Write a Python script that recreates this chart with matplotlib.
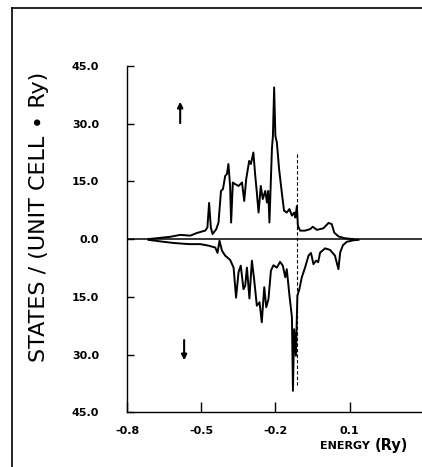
import numpy as np
import matplotlib.pyplot as plt
from matplotlib.lines import Line2D

# spin-up density of states (energy in Ry, states / unit cell Ry)
e_up = [-0.713, -0.625, -0.585, -0.544, -0.517, -0.484, -0.475, -0.468, -0.461, -0.454,
        -0.439, -0.430, -0.420, -0.412, -0.403, -0.396, -0.390, -0.383, -0.379, -0.372,
        -0.363, -0.349, -0.335, -0.326, -0.318, -0.306, -0.299, -0.289, -0.282, -0.275,
        -0.268, -0.259, -0.251, -0.241, -0.234, -0.229, -0.224, -0.214, -0.210, -0.205,
        -0.200, -0.194, -0.185, -0.174, -0.165, -0.154, -0.143, -0.133, -0.124, -0.119,
        -0.113, -0.109, -0.100, -0.080, -0.059, -0.049, -0.032, -0.006, 0.015, 0.028,
        0.038, 0.055, 0.082, 0.116]
dos_up = [0.0, 0.6, 1.1, 0.9, 1.6, 2.2, 3.0, 9.4, 3.0, 1.3,
          2.6, 4.3, 12.5, 13.0, 16.4, 16.9, 19.5, 13.8, 4.3, 14.7,
          14.3, 13.8, 14.7, 9.9, 15.6, 20.3, 19.5, 22.5, 16.9, 12.1,
          6.9, 13.8, 10.4, 12.5, 9.5, 12.5, 4.3, 23.4, 26.8, 39.4,
          26.8, 25.1, 18.2, 12.1, 7.4, 6.9, 7.8, 6.1, 6.9, 5.6,
          8.6, 3.5, 2.2, 2.2, 2.6, 3.2, 2.4, 2.8, 4.2, 3.9,
          1.7, 0.7, 0.2, 0.0]

# spin-down density of states (plotted downward)
e_dn = [-0.713, -0.652, -0.612, -0.551, -0.504, -0.470, -0.443, -0.434, -0.426, -0.416,
        -0.403, -0.383, -0.369, -0.359, -0.349, -0.340, -0.329, -0.322, -0.315, -0.305,
        -0.295, -0.286, -0.275, -0.264, -0.255, -0.245, -0.237, -0.228, -0.218, -0.208,
        -0.194, -0.181, -0.170, -0.160, -0.154, -0.143, -0.133, -0.129, -0.124, -0.117,
        -0.111, -0.103, -0.093, -0.080, -0.066, -0.056, -0.046, -0.035, -0.027, -0.019,
        0.001, 0.021, 0.041, 0.055, 0.062, 0.073, 0.089, 0.116, 0.136]
dos_dn = [0.2, 0.7, 1.0, 1.3, 1.3, 1.7, 2.2, 3.6, 0.4, 3.0,
          4.3, 5.4, 7.4, 15.2, 8.6, 6.9, 13.0, 12.1, 7.4, 15.4,
          5.6, 10.4, 17.3, 16.4, 21.6, 12.5, 17.7, 15.6, 8.2, 6.8,
          7.4, 5.9, 6.9, 9.9, 7.8, 14.7, 20.3, 39.4, 23.4, 30.3,
          14.7, 13.0, 9.9, 7.4, 4.3, 3.6, 6.5, 5.6, 6.0, 3.5,
          2.4, 2.8, 4.3, 7.8, 3.5, 1.6, 0.7, 0.3, 0.2]

e_fermi = -0.112
y_ticks = [45, 30, 15, 0, -15, -30, -45]
y_labels = ['45.0', '30.0', '15.0', '0.0', '15.0', '30.0', '45.0']
x_ticks = [-0.8, -0.5, -0.2, 0.1]
x_labels = ['-0.8', '-0.5', '-0.2', '0.1']

tick_kw = dict(family='DejaVu Sans', fontsize=8, fontweight='bold')

fig = plt.figure(figsize=(4.22, 4.67), dpi=100)
ax = fig.add_axes([0.301, 0.117, 0.699, 0.742])

ax.plot(e_up, dos_up, color='k', lw=1.4)
ax.plot(e_dn, -np.array(dos_dn), color='k', lw=1.4)
ax.axhline(0, color='k', lw=1.1)
ax.plot([e_fermi, e_fermi], [22, -38], color='k', lw=0.8, ls=(0, (3, 2)))

# spin arrows
ax.annotate('', xy=(-0.585, 36.4), xytext=(-0.585, 29.4),
            arrowprops=dict(arrowstyle='-|>', color='k', lw=1.5, mutation_scale=8))
ax.annotate('', xy=(-0.569, -32.2), xytext=(-0.569, -25.5),
            arrowprops=dict(arrowstyle='-|>', color='k', lw=1.5, mutation_scale=8))

ax.set_xlim(-0.8, 0.393)
ax.set_ylim(-45, 45)
ax.spines['top'].set_visible(False)
ax.spines['right'].set_visible(False)
for s in ('left', 'bottom'):
    ax.spines[s].set_linewidth(1.0)

ax.set_yticks(y_ticks)
ax.set_yticklabels(y_labels, **tick_kw)
ax.set_xticks(x_ticks)
ax.set_xticklabels(x_labels, **tick_kw)
ax.tick_params(axis='y', direction='in', length=5, width=1.0, pad=20)
ax.tick_params(axis='x', direction='in', length=7, width=1.0, pad=10)

fig.text(0.092, 0.535, 'STATES / (UNIT CELL \u2219 Ry)', rotation=90,
         ha='center', va='center', fontsize=16, family='DejaVu Sans')
fig.text(0.876, 0.045, 'ENERGY', ha='right', va='center', fontsize=8,
         family='DejaVu Sans', fontweight='bold')
fig.text(0.888, 0.045, '(Ry)', ha='left', va='center', fontsize=10.5,
         family='DejaVu Sans', fontweight='bold')

# scanned page border
fig.add_artist(Line2D([0.028, 0.028], [0.0, 0.982], color='k', lw=1.2))
fig.add_artist(Line2D([0.028, 1.0], [0.982, 0.982], color='k', lw=1.2))

fig.savefig('out.png', dpi=100)
